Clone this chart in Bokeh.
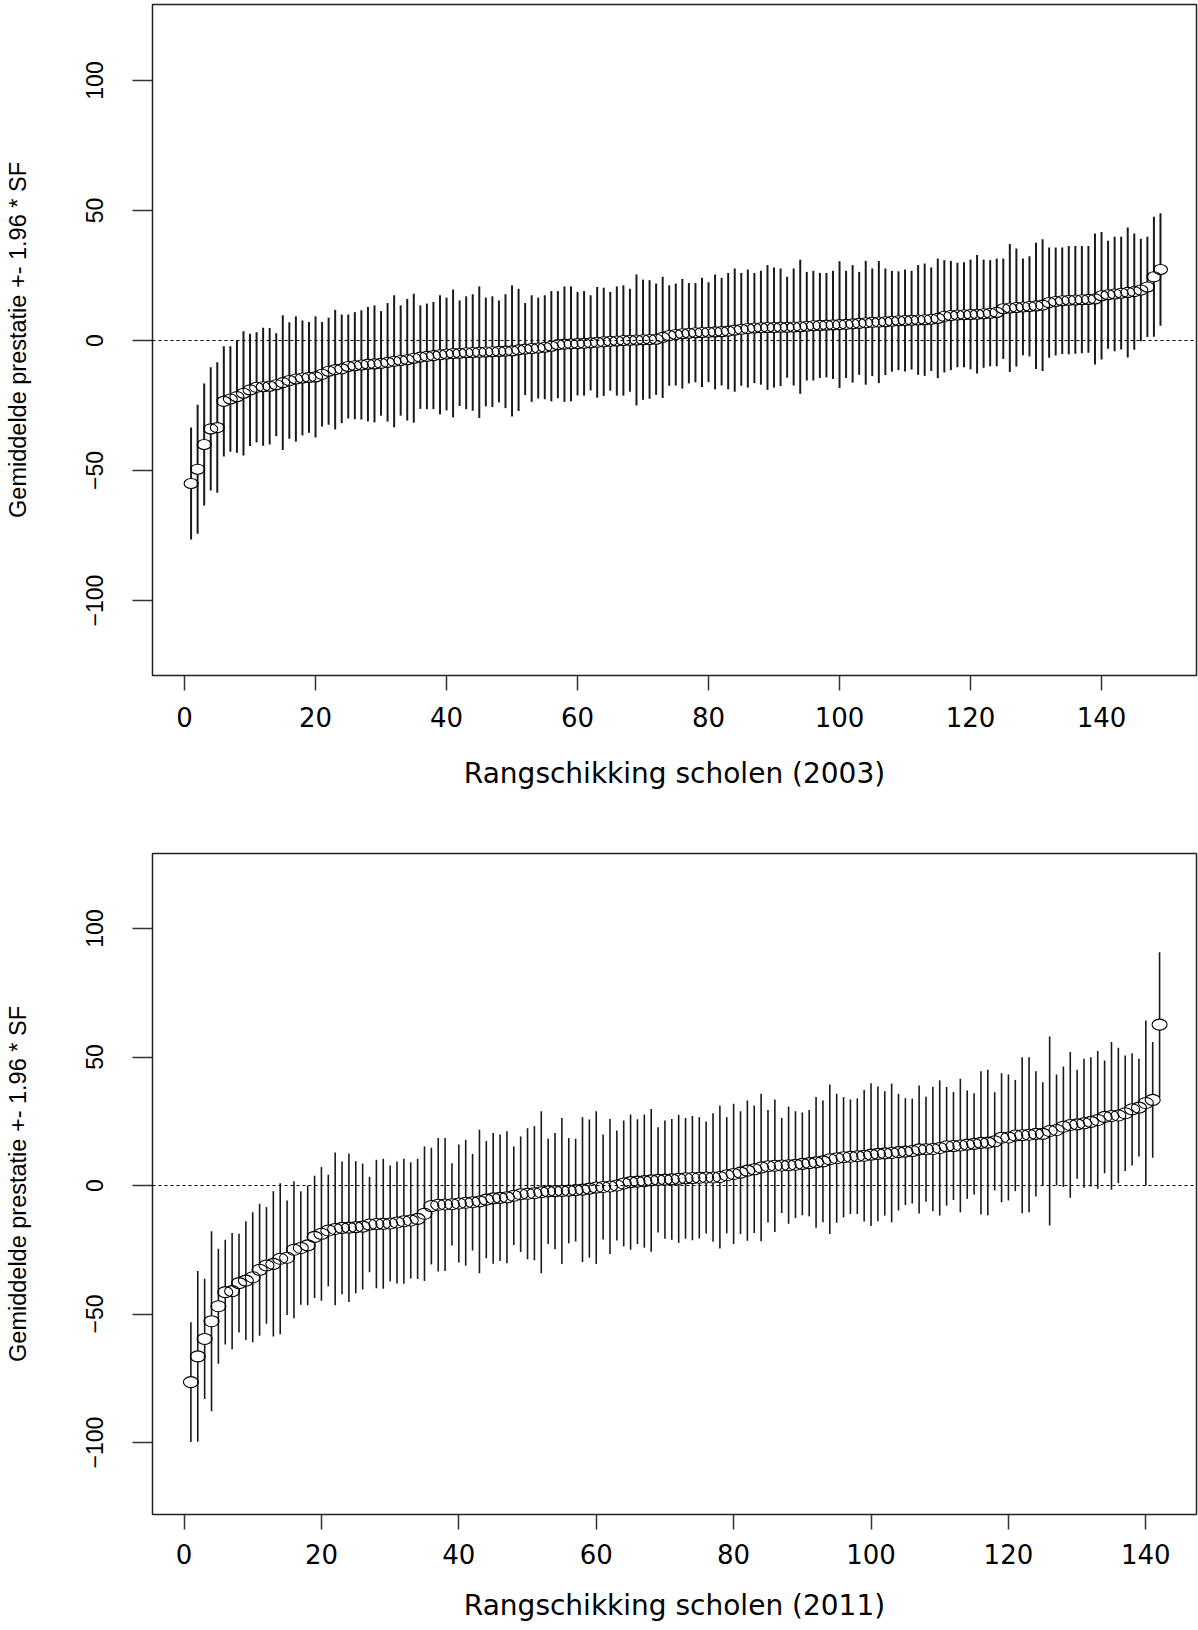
from bokeh.plotting import figure
from bokeh.layouts import column
from bokeh.models import Range1d, LinearAxis, FixedTicker, Span, ColumnDataSource
from bokeh.embed import file_html
from bokeh.resources import INLINE

# ---------------- data ----------------
mean_2003 = [-55.0, -49.5, -40.0, -34.0, -33.5, -23.4, -22.5, -21.6, -20.3, -19.0,
             -18.0, -17.8, -17.6, -17.0, -16.2, -15.4, -14.8, -14.4, -14.2, -14.0,
             -13.0, -11.8, -11.2, -10.9, -10.0, -9.7, -9.4, -9.1, -9.0, -8.8,
             -8.4, -8.0, -7.7, -7.4, -6.8, -6.4, -6.1, -5.8, -5.5, -5.2,
             -5.0, -4.9, -4.7, -4.6, -4.5, -4.4, -4.3, -4.2, -4.1, -4.0,
             -3.6, -3.3, -3.1, -2.9, -2.6, -2.2, -1.6, -1.4, -1.3, -1.2,
             -1.1, -0.9, -0.7, -0.5, -0.3, -0.2, 0.0, 0.1, 0.2, 0.3,
             0.4, 0.5, 1.2, 1.9, 2.3, 2.6, 2.8, 3.0, 3.1, 3.2,
             3.3, 3.4, 3.6, 4.0, 4.3, 4.6, 4.8, 4.9, 5.0, 5.0,
             5.1, 5.1, 5.2, 5.3, 5.5, 5.7, 5.8, 5.9, 6.0, 6.1,
             6.2, 6.4, 6.6, 6.8, 7.0, 7.1, 7.2, 7.4, 7.6, 7.7,
             7.8, 7.9, 8.0, 8.2, 8.5, 9.3, 9.6, 9.8, 9.9, 10.0,
             10.1, 10.3, 10.5, 10.8, 12.2, 12.5, 12.7, 12.9, 13.1, 13.3,
             13.6, 14.6, 15.0, 15.3, 15.5, 15.6, 15.7, 15.8, 16.0, 17.2,
             17.6, 17.9, 18.2, 18.5, 18.8, 19.4, 20.6, 24.5, 27.3]

ci_2003 = [21.5, 24.8, 23.5, 23.7, 25.1, 21.2, 20.3, 21.6, 23.9, 21.6,
           21.2, 22.7, 22.4, 19.8, 25.9, 22.4, 24.1, 22.1, 21.3, 23.3,
           20.1, 20.6, 23.0, 20.9, 20.0, 20.6, 21.0, 22.0, 22.5, 20.1,
           22.8, 25.4, 21.2, 23.4, 24.8, 19.9, 20.3, 20.6, 22.9, 21.7,
           24.6, 20.3, 21.7, 22.4, 25.3, 20.9, 21.3, 19.6, 21.9, 25.2,
           23.5, 17.7, 20.5, 19.4, 20.0, 21.2, 20.6, 22.2, 22.1, 19.9,
           20.1, 18.3, 21.3, 20.8, 19.0, 21.0, 21.2, 19.8, 25.2, 23.1,
           22.8, 21.4, 23.3, 19.3, 19.6, 21.1, 19.3, 19.1, 21.0, 19.2,
           22.1, 20.7, 22.4, 23.7, 21.7, 22.7, 21.2, 21.9, 24.0, 23.1,
           22.6, 19.4, 22.5, 25.8, 20.9, 21.1, 20.2, 20.1, 20.8, 24.4,
           20.6, 22.6, 19.8, 23.8, 20.7, 23.5, 20.5, 19.4, 19.0, 19.6,
           19.0, 21.1, 21.6, 19.9, 23.0, 21.6, 21.0, 20.1, 20.2, 21.1,
           22.8, 20.8, 20.4, 20.7, 19.3, 24.6, 22.7, 18.6, 19.3, 24.3,
           25.3, 21.2, 20.8, 20.5, 20.8, 20.7, 20.6, 20.5, 25.2, 24.5,
           20.8, 22.0, 21.7, 25.0, 22.4, 19.7, 19.3, 23.1, 21.6]

mean_2011 = [-76.5, -66.5, -59.7, -52.8, -47.0, -41.5, -41.1, -38.0, -37.0, -35.7,
             -32.8, -31.1, -30.5, -28.5, -28.1, -25.0, -24.3, -23.3, -20.0, -18.8,
             -17.5, -16.9, -16.5, -16.4, -16.2, -16.0, -15.2, -15.0, -14.9, -14.8,
             -14.4, -13.9, -13.6, -13.0, -11.0, -8.0, -7.5, -7.4, -7.3, -7.0,
             -6.7, -6.5, -6.2, -5.5, -5.0, -4.8, -4.6, -4.0, -3.4, -3.2,
             -3.0, -2.6, -2.3, -2.2, -2.1, -2.0, -1.8, -1.6, -1.2, -0.8,
             -0.6, -0.4, 0.0, 0.8, 1.3, 1.5, 1.7, 2.0, 2.2, 2.3,
             2.4, 2.6, 2.8, 2.9, 3.0, 3.1, 3.1, 3.3, 4.0, 4.5,
             5.0, 5.8, 6.3, 7.0, 7.5, 7.7, 7.8, 7.9, 8.1, 8.4,
             8.7, 9.0, 9.4, 10.2, 10.6, 11.0, 11.2, 11.4, 11.6, 12.0,
             12.3, 12.5, 12.65, 13.0, 13.2, 13.4, 14.05, 14.1, 14.2, 14.6,
             15.25, 15.35, 15.55, 15.9, 16.2, 16.6, 16.7, 17.2, 18.6, 18.7,
             19.45, 19.55, 19.75, 20.1, 20.1, 21.2, 21.6, 22.85, 23.55, 23.8,
             24.2, 24.75, 25.5, 26.7, 27.05, 27.25, 28.1, 29.65, 30.3, 32.1,
             33.3, 62.6]

ci_2011 = [23.3, 33.2, 23.4, 35.0, 22.4, 20.4, 22.6, 19.2, 23.1, 25.3,
           25.7, 22.7, 28.3, 29.4, 22.3, 26.7, 22.1, 23.3, 23.8, 26.0,
           21.7, 29.7, 25.8, 28.9, 25.7, 24.5, 18.6, 25.0, 25.3, 22.6,
           23.7, 24.3, 22.6, 23.4, 26.2, 22.7, 26.0, 25.9, 16.0, 23.0,
           24.5, 18.8, 27.9, 22.8, 25.4, 24.6, 25.7, 19.2, 22.5, 25.5,
           26.1, 31.5, 20.5, 22.6, 28.4, 20.5, 20.0, 28.2, 26.9, 29.7,
           20.4, 26.3, 21.4, 24.5, 26.3, 24.3, 25.9, 27.8, 20.5, 23.0,
           23.5, 24.9, 23.5, 24.2, 23.6, 21.8, 25.0, 27.8, 22.6, 27.3,
           23.9, 27.3, 24.8, 28.7, 21.9, 25.8, 18.5, 22.8, 20.8, 20.0,
           20.7, 25.4, 23.7, 29.1, 25.1, 23.4, 22.3, 22.5, 25.6, 27.8,
           26.2, 24.2, 27.0, 22.7, 20.8, 20.4, 24.9, 20.4, 24.2, 26.3,
           23.1, 21.0, 26.0, 21.1, 19.7, 27.9, 28.3, 19.1, 25.1, 24.5,
           21.65, 30.35, 30.15, 24.4, 20.1, 36.8, 21.6, 23.45, 28.35, 21.2,
           25.1, 25.15, 26.8, 21.9, 28.75, 26.35, 22.5, 21.85, 19.0, 32.1,
           22.5, 28.2]

x_ticks = [0, 20, 40, 60, 80, 100, 120, 140]
y_ticks = [-100, -50, 0, 50, 100]
y_label = "Gemiddelde prestatie +- 1.96 * SF"
x_label_2003 = "Rangschikking scholen (2003)"
x_label_2011 = "Rangschikking scholen (2011)"

W = 1198
B_LEFT, B_RIGHT = 152, 2


def make_plot(means, cis, xlabel, xr, yr, height, b_top, b_bottom, bar_width,
              ell_w, ell_h, tick_standoff, label_standoff):
    p = figure(width=W, height=height, x_range=Range1d(*xr), y_range=Range1d(*yr),
               output_backend="svg", toolbar_location=None,
               x_axis_location=None, y_axis_location=None,
               min_border_left=B_LEFT, min_border_right=B_RIGHT,
               min_border_top=b_top, min_border_bottom=b_bottom)
    p.xgrid.grid_line_color = None
    p.ygrid.grid_line_color = None
    p.outline_line_color = "#222222"
    p.outline_line_width = 1.5
    p.background_fill_color = "white"
    p.border_fill_color = "white"

    frame_h = height - b_top - b_bottom
    px_per_unit = frame_h / (yr[1] - yr[0])
    gap = (ell_h / 2.0) / px_per_unit

    ranks = list(range(1, len(means) + 1))
    lo = [m - c for m, c in zip(means, cis)]
    hi = [m + c for m, c in zip(means, cis)]
    src = ColumnDataSource(dict(
        x=ranks, m=means, lo=lo, hi=hi,
        m_lo=[m - gap for m in means], m_hi=[m + gap for m in means]))

    p.add_layout(Span(location=0, dimension="width", line_color="black",
                      line_width=1, line_dash="3 3"))

    p.segment(x0="x", y0="lo", x1="x", y1="m_lo", source=src,
              line_color="#1a1a1a", line_width=bar_width)
    p.segment(x0="x", y0="m_hi", x1="x", y1="hi", source=src,
              line_color="#1a1a1a", line_width=bar_width)
    p.ellipse(x="x", y="m", width=ell_w, height=ell_h, width_units="screen",
              height_units="screen", source=src, fill_color=None,
              line_color="black", line_width=1.1)

    xa = LinearAxis(ticker=FixedTicker(ticks=x_ticks), axis_label=xlabel)
    xa.axis_line_color = None
    xa.major_tick_out = 15
    xa.major_tick_in = 0
    xa.major_tick_line_color = "#333333"
    xa.major_tick_line_width = 1.5
    xa.minor_tick_line_color = None
    xa.major_label_text_font = "DejaVu Sans"
    xa.major_label_text_font_size = "26px"
    xa.major_label_text_color = "black"
    xa.major_label_standoff = tick_standoff
    xa.axis_label_text_font = "DejaVu Sans"
    xa.axis_label_text_font_size = "28px"
    xa.axis_label_text_font_style = "normal"
    xa.axis_label_text_color = "black"
    xa.axis_label_standoff = label_standoff
    p.add_layout(xa, "below")

    ya = LinearAxis(ticker=FixedTicker(ticks=y_ticks), axis_label=y_label)
    ya.axis_line_color = None
    ya.major_tick_out = 20
    ya.major_tick_in = 0
    ya.major_tick_line_color = "#333333"
    ya.major_tick_line_width = 1.5
    ya.minor_tick_line_color = None
    ya.major_label_orientation = "vertical"
    ya.major_label_text_font = "Liberation Sans"
    ya.major_label_text_font_size = "23px"
    ya.major_label_text_color = "black"
    ya.major_label_standoff = 30
    ya.axis_label_text_font = "Liberation Sans"
    ya.axis_label_text_font_size = "23.5px"
    ya.axis_label_text_font_style = "normal"
    ya.axis_label_text_color = "black"
    ya.axis_label_standoff = 52
    p.add_layout(ya, "left")
    return p


FW = W - B_LEFT - B_RIGHT
# top: frame 4..675, y=0 at 340, 2.6 px/unit; x=0 at 184, 6.55 px/unit
p1 = make_plot(mean_2003, ci_2003, x_label_2003,
               xr=(-4.89, -4.89 + FW / 6.55), yr=(-(675 - 340) / 2.6, (340 - 4) / 2.6),
               height=838, b_top=4, b_bottom=163, bar_width=2.0, ell_w=14, ell_h=10,
               tick_standoff=16, label_standoff=27)
# bottom: frame 853..1514, y=0 at 1185, 2.57 px/unit; x=0 at 183.5, 6.87 px/unit
p2 = make_plot(mean_2011, ci_2011, x_label_2011,
               xr=(-4.59, -4.59 + FW / 6.87), yr=(-(1514 - 1185) / 2.57, (1185 - 853) / 2.57),
               height=790, b_top=15, b_bottom=114, bar_width=1.6, ell_w=15, ell_h=11,
               tick_standoff=14, label_standoff=22)

layout = column(p1, p2, spacing=0)
open("out.html", "w").write(file_html(layout, INLINE))
